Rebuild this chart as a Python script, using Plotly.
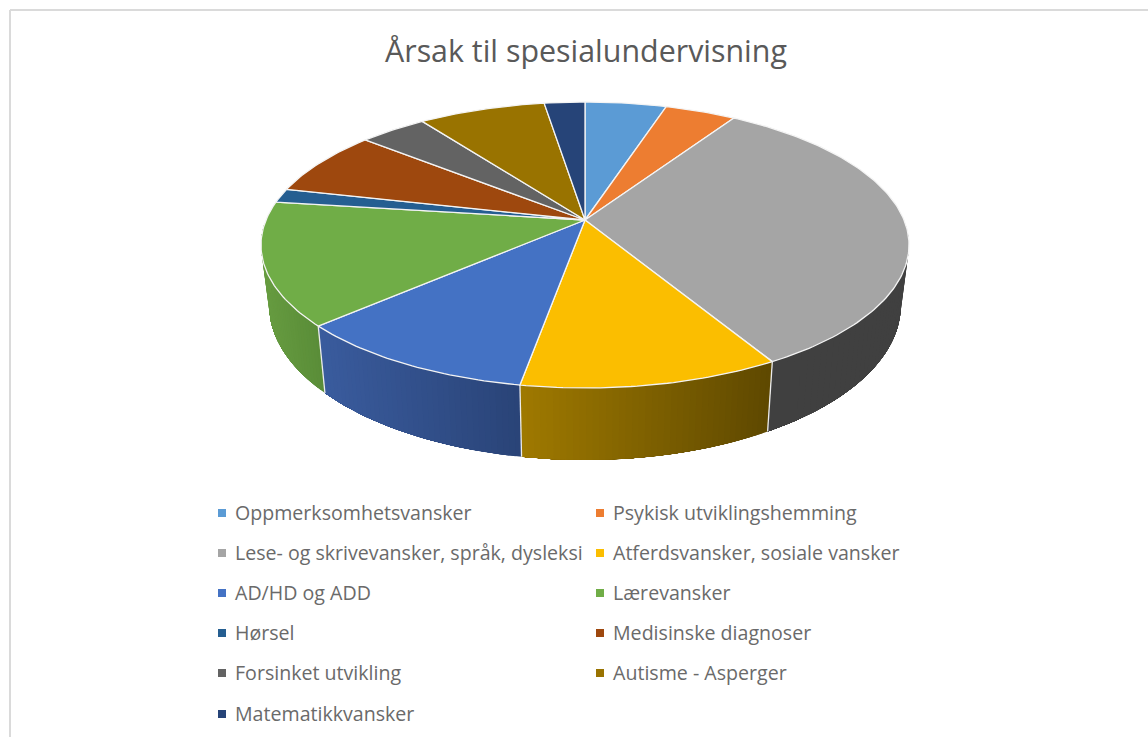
import numpy as np
import plotly.graph_objects as go

TITLE = "Årsak til spesialundervisning"
categories = ["Oppmerksomhetsvansker", "Psykisk utviklingshemming",
              "Lese- og skrivevansker, språk, dysleksi", "Atferdsvansker, sosiale vansker",
              "AD/HD og ADD", "Lærevansker", "Hørsel", "Medisinske diagnoser",
              "Forsinket utvikling", "Autisme - Asperger", "Matematikkvansker"]
values = [4.8, 4.2, 32.7, 11.0, 10.5, 13.9, 1.6, 7.4, 4.0, 7.5, 2.4]
colors = ["#5B9BD5", "#ED7D31", "#A5A5A5", "#FBBE00", "#4472C4", "#70AD47",
          "#255E91", "#9E480E", "#636363", "#997300", "#264478"]
side_left = {2: "#404040", 3: "#A07A00", 4: "#3A5C9E", 5: "#669B40"}
side_right = {2: "#404040", 3: "#5F4900", 4: "#2A4478", 5: "#5A8D38"}

W, H = 1148, 737
CX, CY, A, B, P = 585.0, 220.0, 319.0, 138.6, 0.1748
CY2, A2, B2 = 278.2, 311.0, 150.0


def top(theta):
    x, y = np.sin(theta), np.cos(theta)
    w = 1 + P * y
    return CX + A * x / w, CY - B * y / w


def bottom(theta):
    x, y = np.sin(theta), np.cos(theta)
    w = 1 + P * y
    return CX + A2 * x / w, CY2 - B2 * y / w


def mix(c1, c2, f):
    a = [int(c1[i:i + 2], 16) for i in (1, 3, 5)]
    b = [int(c2[i:i + 2], 16) for i in (1, 3, 5)]
    return "rgb(%d,%d,%d)" % tuple(round(p + (q - p) * f) for p, q in zip(a, b))


edges = np.radians(np.concatenate([[0], np.cumsum(values)]) / sum(values) * 360)
fig = go.Figure()

# Side wall: overlapping strips, painted in sequence, give a smooth shading
VIS0, VIS1 = np.radians(92), np.radians(268)
for i in side_left:
    t0, t1 = max(edges[i], VIS0), min(edges[i + 1], VIS1)
    x_a, x_b = top(t0)[0], top(t1)[0]
    x_lo, x_hi = min(x_a, x_b), max(x_a, x_b)
    steps = np.linspace(t0, t1, 41)
    for a in steps[:-1]:
        arc = np.linspace(a, t1, 30)
        xt, yt = top(arc)
        xb, yb = bottom(arc)
        f = (top(a)[0] - x_lo) / (x_hi - x_lo)
        col = mix(side_left[i], side_right[i], f)
        fig.add_trace(go.Scatter(
            x=np.r_[xt, xb[::-1], xt[0]], y=np.r_[yt, yb[::-1], yt[0]],
            mode="lines", fill="toself", fillcolor=col,
            line=dict(color=col, width=0), hoverinfo="skip", showlegend=False))

# Seams between side-wall segments
for e in edges[3:6]:
    xt, yt = top(e)
    xb, yb = bottom(e)
    fig.add_trace(go.Scatter(x=[xt, xb], y=[yt, yb], mode="lines",
                             line=dict(color="#ECECEC", width=1.3),
                             hoverinfo="skip", showlegend=False))

# Top face
for i, name in enumerate(categories):
    arc = np.linspace(edges[i], edges[i + 1], max(6, int(values[i] * 4)))
    xa, ya = top(arc)
    fig.add_trace(go.Scatter(
        x=np.r_[CX, xa, CX], y=np.r_[CY, ya, CY], mode="lines", fill="toself",
        fillcolor=colors[i], line=dict(color="#F4F4F4", width=1.3),
        name=name, hoverinfo="name", showlegend=False))

# Legend: two columns of square swatches with labels
LEG_X = [222, 600]
LEG_Y = [513, 553, 593, 633, 673, 714]
for i, name in enumerate(categories):
    col, row = i % 2, i // 2
    fig.add_trace(go.Scatter(
        x=[LEG_X[col]], y=[LEG_Y[row]], mode="markers",
        marker=dict(symbol="square", size=8, color=colors[i]),
        hoverinfo="skip", showlegend=False))
    fig.add_annotation(x=LEG_X[col] + 11, y=LEG_Y[row] - 1, text=name, showarrow=False,
                       xanchor="left", yanchor="middle", xref="x", yref="y",
                       font=dict(family="Open Sans", size=19.6, color="#6A6A6A"))

fig.add_annotation(x=586, y=50, text=TITLE, showarrow=False, xref="x", yref="y",
                   xanchor="center", yanchor="middle",
                   font=dict(family="Open Sans", size=30.4, color="#595959"))

# Frame of the chart area
fig.add_shape(type="line", x0=10, x1=10, y0=10, y1=H, xref="x", yref="y",
              line=dict(color="#DADADA", width=2))
fig.add_shape(type="line", x0=10, x1=W, y0=10, y1=10, xref="x", yref="y",
              line=dict(color="#DADADA", width=2))

fig.update_layout(
    width=W, height=H, margin=dict(l=0, r=0, t=0, b=0), autosize=False,
    paper_bgcolor="white", plot_bgcolor="white", showlegend=False,
    xaxis=dict(range=[0, W], visible=False, fixedrange=True),
    yaxis=dict(range=[H, 0], visible=False, fixedrange=True),
)
fig.write_html("out.html", config={"displayModeBar": False, "responsive": False},
               post_script="document.body.style.margin='0';document.body.style.overflow='hidden';")
